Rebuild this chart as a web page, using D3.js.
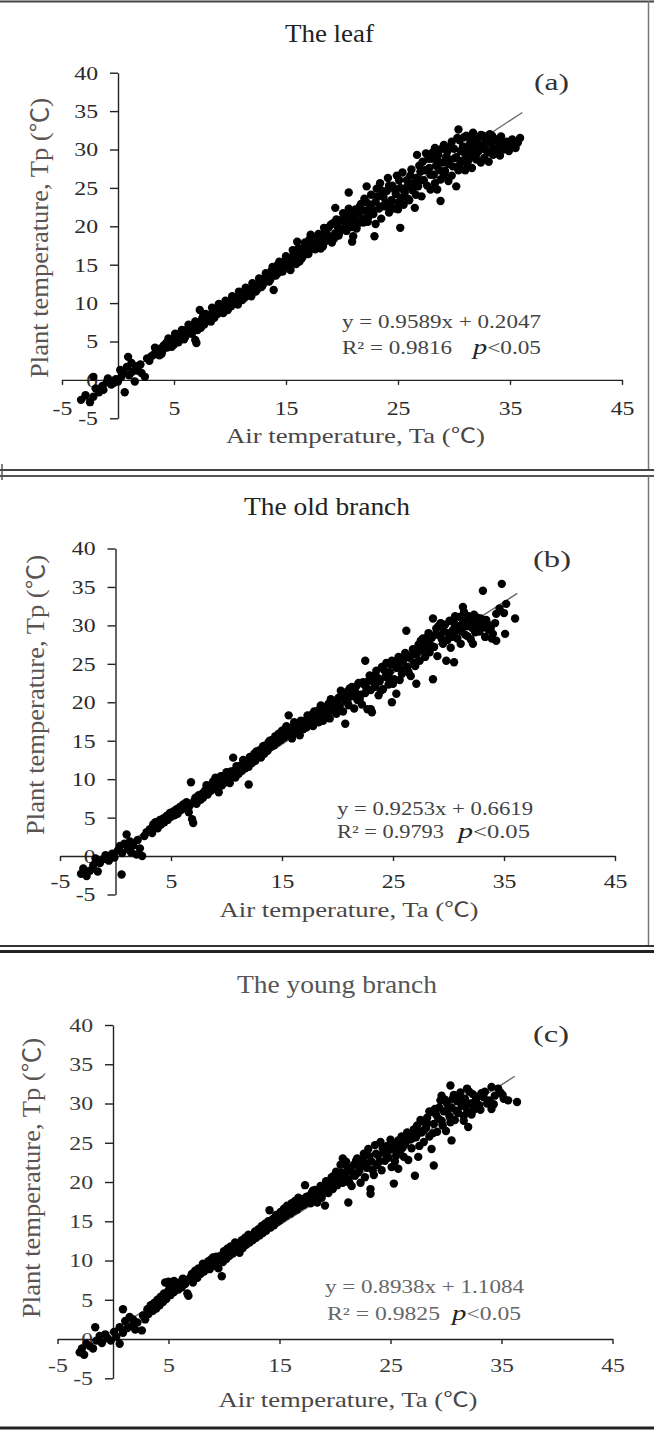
<!DOCTYPE html>
<html><head><meta charset="utf-8">
<script src="https://cdn.jsdelivr.net/npm/d3@7"></script>
<style>
html,body{margin:0;padding:0;background:#fff;}
svg{display:block;}
text{font-family:"Liberation Serif","Times New Roman",serif;}
</style></head><body>
<svg id="chart" width="654" height="1439"></svg>
<script>
// ---------- data ----------
const xTicks = [-5, 5, 15, 25, 35, 45];
const yTicks = [-5, 0, 5, 10, 15, 20, 25, 30, 35, 40];
const panelTitles = ["The leaf", "The old branch", "The young branch"];
const panelLetters = ["(a)", "(b)", "(c)"];
const eqLines = ["y = 0.9589x + 0.2047", "y = 0.9253x + 0.6619", "y = 0.8938x + 1.1084"];
const r2Lines = ["R² = 0.9816", "R² = 0.9793", "R² = 0.9825"];
const pLabel = "<0.05";
const xLabel = "Air temperature, Ta (";
const yLabel = "Plant temperature, Tp (";
const fitSlopes = [0.9589, 0.9253, 0.8938];
const fitIntercepts = [0.2047, 0.6619, 1.1084];
const fitXRange = [[-3.3, 36.1], [-3.1, 36.2], [-3.0, 36.2]];

const leafPoints = [
[-3.3,-2.6],[-2.9,-2.0],[-2.5,-2.9],[-2.2,-2.2],[-2.2,0.4],[-2.0,-1.1],[-1.7,-1.6],[-1.4,-0.8],[-1.3,-1.3],[-1.0,-0.3],[-0.9,0.2],[-0.6,-0.6],[-0.4,-0.4],[-0.2,0.1],[0.0,-0.2],[0.2,1.3],[0.3,0.4],[0.5,0.9],[0.6,-1.6],[0.8,1.7],[0.9,3.0],[1.0,0.6],[1.2,2.2],[1.3,1.1],[1.5,-0.2],[1.6,1.8],[1.8,1.2],[2.0,2.0],[2.1,0.9],[2.4,0.4],[2.6,2.8],[2.8,2.5],[3.0,3.1],
[3.2,3.3],[3.4,3.8],[3.5,3.5],[3.7,3.2],[3.8,4.1],[4.0,3.9],[4.1,4.5],[4.3,4.8],[4.4,4.2],[4.6,4.6],[4.7,5.3],[4.9,5.0],[5.0,4.6],[5.2,5.7],[5.3,5.2],[5.5,5.5],[5.6,6.1],[5.8,5.8],[5.9,5.3],[6.1,6.5],[6.2,6.0],[6.4,6.8],[6.5,6.2],[6.7,6.6],[6.8,7.1],[6.9,5.2],[7.0,4.8],[7.0,6.9],[7.2,7.4],[7.3,9.1],[7.4,6.8],[7.5,7.9],[7.6,8.3],[7.7,7.2],[7.9,7.7],[8.0,8.5],
[8.2,8.3],[8.3,7.6],[8.5,8.9],[8.6,8.1],[8.8,9.3],[8.9,8.6],[9.1,8.9],[9.2,9.6],[9.4,8.7],[9.5,9.2],[9.7,9.9],[9.8,9.1],[10.0,10.3],[10.1,9.6],[10.3,10.0],[10.4,10.7],[10.6,10.2],[10.7,9.8],[10.9,11.0],[11.0,10.5],[11.2,11.3],[11.3,10.7],[11.5,11.1],[11.6,11.8],[11.8,11.3],[11.9,10.9],[12.1,11.9],[12.2,12.4],[12.4,11.7],[12.5,12.2],[12.7,12.8],[12.8,12.1],[13.0,12.6],[13.1,13.3],[13.3,12.9],[13.4,13.7],[13.6,13.1],[13.7,14.2],[13.9,11.7],[13.9,13.6],[14.0,14.6],[14.2,14.9],[14.3,13.9],[14.5,14.3],[14.6,15.2],[14.8,14.7],[14.9,15.5],[15.1,14.9],
[15.2,15.8],[15.4,14.3],[15.5,15.3],[15.7,16.5],[15.8,15.6],[16.0,18.0],[16.0,16.2],[16.2,15.4],[16.3,16.9],[16.5,16.1],[16.6,17.3],[16.8,16.4],[16.9,17.7],[17.1,18.3],[17.1,16.9],[17.3,17.4],[17.4,18.6],[17.6,17.0],[17.7,18.0],[17.9,19.0],[18.0,17.6],[18.2,18.4],[18.3,17.4],[18.5,19.3],[18.6,18.1],[18.8,19.8],[18.9,18.7],[19.1,17.9],[19.2,20.4],[19.4,22.4],[19.4,19.1],[19.6,20.0],[19.7,18.8],[19.9,20.8],[20.0,19.6],[20.2,21.2],[20.3,20.1],
[20.5,20.6],[20.6,24.4],[20.7,21.5],[20.9,18.0],[20.9,19.9],[21.0,18.7],[21.1,20.9],[21.2,22.2],[21.4,20.3],[21.5,21.7],[21.7,22.9],[21.8,21.0],[22.0,23.6],[22.1,22.0],[22.2,25.2],[22.3,20.6],[22.5,22.8],[22.6,24.1],[22.8,21.6],[22.9,18.7],[23.0,23.2],[23.1,24.9],[23.3,22.3],[23.4,25.6],[23.5,21.0],[23.7,23.8],[23.8,22.6],[24.0,24.6],[24.1,26.3],[24.2,21.8],[24.4,23.4],[24.5,25.3],[24.6,22.3],[24.8,24.2],[24.9,26.6],[25.0,23.1],[25.2,19.8],[25.2,25.0],[25.4,27.0],[25.5,22.8],[25.6,24.4],[25.8,26.0],[25.9,23.6],[26.0,25.3],[26.2,27.4],[26.3,24.7],[26.5,22.4],[26.6,26.3],[26.7,29.3],[26.8,25.2],[27.0,27.1],[27.1,23.9],
[27.2,28.4],[27.3,26.0],[27.5,29.5],[27.6,25.3],[27.8,27.6],[27.9,24.8],[28.0,28.8],[28.2,26.7],[28.3,30.2],[28.4,27.9],[28.5,24.8],[28.6,29.3],[28.8,23.3],[28.8,26.1],[29.0,28.3],[29.1,30.6],[29.2,27.2],[29.4,29.7],[29.5,25.9],[29.6,28.7],[29.8,31.0],[29.9,27.8],[30.0,30.1],[30.2,25.2],[30.2,29.0],[30.4,32.6],[30.4,27.3],[30.5,31.2],[30.7,28.5],[30.8,30.4],[31.0,29.4],[31.1,31.8],[31.2,27.9],[31.4,30.7],[31.5,29.1],[31.6,27.6],[31.7,32.2],[31.8,30.2],[32.0,28.7],[32.1,31.4],[32.2,29.8],[32.4,31.9],[32.5,30.5],[32.7,28.9],[32.8,31.3],[33.0,29.6],[33.2,32.0],[33.3,30.8],[33.5,29.3],[33.6,31.4],[33.8,29.6],[34.0,30.3],[34.2,31.7],[34.4,30.0],[34.7,31.0],[35.0,30.6],[35.2,31.3],[35.5,30.2],[35.9,31.5],
[3.3,4.2],[3.9,3.4],[4.5,5.4],[4.8,4.3],[5.1,6.0],[5.4,4.9],[5.7,6.5],[6.0,5.6],[6.3,7.2],[6.6,6.0],[6.9,7.6],[7.1,6.5],[7.8,8.6],[8.1,7.8],[8.4,9.4],[8.7,8.4],[9.0,9.9],[9.3,8.9],[9.6,10.3],[9.9,9.4],[10.2,10.9],[10.5,9.9],[10.8,11.5],[11.1,10.4],[11.4,12.0],[11.7,11.0],[12.0,12.6],[12.3,11.5],[12.6,13.2],[12.9,12.3],[13.2,13.9],[13.5,12.8],[13.8,14.7],[14.1,13.6],[14.4,15.4],[14.7,14.1],[15.0,16.1],
[15.3,15.0],[15.6,16.9],[15.9,15.1],[16.1,17.1],[16.4,15.8],[16.7,17.9],[17.0,16.4],[17.2,18.9],[17.5,17.6],[17.8,18.7],[18.1,17.1],[18.4,19.8],[18.7,18.5],[19.0,20.2],[19.3,18.4],[19.5,20.9],[19.8,19.3],[20.1,21.7],[20.4,19.4],[20.6,22.3],[20.8,20.3],[21.0,21.3],[21.3,19.7],[21.6,22.6],[21.9,20.5],[22.2,23.1],[22.4,21.3],[22.7,22.2],[23.0,20.3],[23.2,23.9],[23.5,22.6],[23.6,24.6],[23.9,23.1],[24.2,25.3],[24.3,22.7],[24.7,24.8],[25.0,22.2],[25.1,26.0],[25.3,23.7],[25.7,25.0],[26.0,23.4],[26.1,26.6],[26.4,25.6],[26.6,24.1],[26.9,27.9],[27.0,26.0],
[27.4,27.3],[27.7,28.8],[27.9,26.7],[28.1,29.6],[28.3,25.6],[28.5,28.6],[28.7,27.3],[28.9,30.1],[29.1,26.6],[29.3,29.0],[29.5,28.1],[29.7,30.4],[29.8,26.6],[30.1,28.9],[30.3,31.5],[30.5,28.0],[30.6,29.8],[30.9,31.6],[31.0,27.3],[31.2,30.2],[31.3,28.6],[31.5,31.4],[31.7,29.6],[31.9,31.0],[32.0,29.4],[32.3,30.6],[32.4,28.3],[32.6,31.8],[32.8,30.0],[33.0,31.0],[33.1,28.4],[33.4,31.8],[33.5,30.2],[33.9,31.1],[34.1,29.2],[34.5,30.8],[34.9,29.8],[35.3,30.8],[35.7,30.9]
];

const oldBranchPoints = [
[-3.1,-2.3],[-2.9,-1.6],[-2.6,-2.6],[-2.3,-1.9],[-2.0,-1.2],[-1.8,-0.3],[-1.6,-2.0],[-1.4,-0.9],[-1.1,-0.4],[-0.9,0.1],[-0.6,-0.6],[-0.3,0.3],[-0.1,-0.2],[0.2,0.7],[0.4,1.3],[0.55,-2.4],[0.6,0.4],[0.8,1.6],[1.0,2.8],[1.1,0.9],[1.3,1.9],[1.4,0.5],[1.6,1.4],[1.9,0.2],[2.0,2.1],[2.2,1.0],[2.4,0.0],[2.6,2.6],[2.8,3.1],
[3.1,3.5],[3.3,3.0],[3.5,3.9],[3.6,4.4],[3.8,3.6],[4.0,4.7],[4.1,4.1],[4.3,4.9],[4.4,4.4],[4.6,5.2],[4.7,4.7],[4.9,5.6],[5.0,5.1],[5.2,5.8],[5.3,5.3],[5.5,6.1],[5.6,5.5],[5.8,6.4],[5.9,6.0],[6.1,6.7],[6.3,6.2],[6.4,7.0],[6.6,5.7],[6.7,6.6],[6.8,9.6],[6.9,4.8],[7.0,4.3],[7.1,7.2],[7.3,6.8],[7.4,7.7],[7.6,7.3],[7.8,8.1],[7.9,7.6],
[8.1,8.6],[8.3,8.0],[8.4,9.1],[8.6,8.5],[8.7,9.4],[8.9,8.8],[9.0,10.2],[9.1,9.3],[9.3,8.3],[9.4,9.8],[9.6,9.2],[9.7,10.4],[9.9,9.6],[10.0,10.9],[10.2,10.1],[10.3,9.5],[10.5,10.6],[10.6,12.8],[10.7,11.1],[10.8,10.2],[11.0,11.4],[11.1,10.7],[11.3,11.8],[11.4,11.1],[11.6,12.1],[11.7,11.4],[11.9,12.4],[12.0,9.3],[12.0,11.6],[12.2,12.8],[12.3,12.1],[12.5,13.3],[12.6,12.4],[12.8,13.0],[12.9,13.7],[13.1,12.8],[13.2,14.0],[13.4,13.3],[13.5,14.4],[13.7,13.7],[13.8,14.8],[14.0,14.2],[14.1,15.1],[14.3,14.4],[14.4,15.6],[14.6,14.8],[14.7,15.9],[14.9,15.1],
[15.0,16.3],[15.2,15.4],[15.3,16.6],[15.5,15.7],[15.6,18.3],[15.7,16.1],[15.9,15.3],[16.0,16.8],[16.2,16.0],[16.3,17.2],[16.5,16.4],[16.6,15.7],[16.8,17.1],[16.9,16.5],[17.1,17.6],[17.2,16.7],[17.4,18.0],[17.5,17.1],[17.7,18.4],[17.8,16.9],[18.0,17.7],[18.1,18.8],[18.3,17.4],[18.4,19.1],[18.6,18.1],[18.7,17.6],[18.9,19.4],[19.0,18.4],[19.2,19.8],[19.3,17.9],[19.5,18.9],[19.6,20.2],[19.8,19.3],[19.9,18.5],
[20.1,20.6],[20.2,19.5],[20.4,21.0],[20.5,18.8],[20.7,17.2],[20.7,20.2],[20.9,21.4],[21.0,19.6],[21.2,20.8],[21.3,22.0],[21.5,19.2],[21.6,21.3],[21.8,20.3],[21.9,22.5],[22.1,21.0],[22.2,19.7],[22.4,22.3],[22.5,25.4],[22.5,21.2],[22.7,19.1],[22.8,22.8],[23.0,19.1],[23.0,21.6],[23.1,18.7],[23.2,23.4],[23.4,22.0],[23.5,24.1],[23.7,20.9],[23.8,22.7],[24.0,24.6],[24.1,21.7],[24.3,23.3],[24.4,25.1],[24.6,22.3],[24.7,23.9],[24.9,20.0],[24.9,25.4],[25.1,23.0],[25.3,21.1],[25.3,24.5],[25.5,25.9],[25.6,22.9],[25.8,23.7],[25.9,25.3],[26.1,26.4],[26.2,29.3],[26.3,24.6],[26.5,25.8],[26.6,23.4],[26.8,26.9],[26.9,25.1],[27.1,22.4],[27.1,26.2],
[27.3,27.5],[27.4,25.4],[27.6,26.8],[27.7,28.3],[27.9,25.9],[28.0,27.7],[28.2,29.0],[28.3,26.5],[28.5,28.4],[28.6,23.0],[28.6,30.9],[28.7,27.2],[28.9,29.6],[29.0,26.0],[29.2,28.7],[29.3,30.3],[29.5,27.6],[29.6,29.2],[29.8,25.4],[29.9,28.1],[30.1,30.6],[30.2,27.1],[30.4,29.4],[30.5,25.2],[30.6,31.2],[30.8,28.3],[30.9,29.9],[31.1,27.6],[31.3,32.4],[31.3,30.6],[31.5,28.8],[31.6,29.9],[31.8,31.2],[32.0,28.2],[32.2,27.6],[32.2,30.3],[32.4,29.1],[32.6,31.0],[32.7,29.6],[33.0,30.1],[33.1,34.5],[33.3,28.5],[33.4,30.7],[33.6,29.4],[33.9,28.3],[34.0,28.9],[34.2,30.3],[34.3,31.5],[34.8,35.4],[35.1,28.9],[35.2,32.8],[36.0,30.9],
[3.4,4.1],[3.9,4.2],[4.2,4.6],[4.5,4.9],[4.8,5.3],[5.1,5.6],[5.4,5.8],[5.7,6.0],[6.0,6.4],[6.2,6.7],[6.5,6.5],[7.2,7.6],[7.5,7.9],[7.7,7.4],[8.0,8.3],[8.2,9.2],[8.5,8.7],[8.8,9.7],[9.2,9.8],[9.5,10.4],[9.8,10.2],[10.1,10.7],[10.4,11.0],[10.9,11.7],[11.2,11.4],[11.5,12.5],[11.8,11.9],[12.1,12.9],[12.4,12.5],[12.7,13.6],[13.0,13.2],[13.3,14.3],[13.6,13.9],[13.9,15.0],[14.2,14.7],[14.5,15.3],[14.8,15.7],
[15.1,15.8],[15.4,16.9],[15.8,16.6],[16.1,17.4],[16.4,16.8],[16.7,17.6],[17.0,17.0],[17.3,18.3],[17.6,17.6],[17.9,18.8],[18.2,18.2],[18.5,19.6],[18.8,18.8],[19.1,19.0],[19.4,20.4],[19.7,19.7],[20.0,20.1],[20.3,21.5],[20.6,20.6],[20.9,20.0],[21.1,21.8],[21.4,20.8],[21.7,22.1],[22.0,20.4],[22.3,22.6],[22.6,21.9],[22.9,23.5],[23.3,22.5],[23.6,23.2],[23.9,21.5],[24.2,24.2],[24.5,23.2],[24.8,24.9],[25.0,22.4],[25.4,25.1],[25.7,24.3],[26.0,25.7],[26.4,23.9],[26.7,26.2],[27.0,24.7],
[27.2,26.5],[27.5,28.0],[27.8,27.1],[28.1,28.5],[28.4,27.4],[28.8,28.8],[29.1,29.9],[29.4,28.2],[29.7,30.1],[30.0,29.0],[30.3,28.5],[30.5,30.3],[30.7,29.3],[31.0,31.1],[31.2,29.2],[31.4,31.7],[31.7,28.6],[31.9,30.8],[32.1,29.7],[32.3,31.4],[32.5,30.4],[32.8,29.2],[32.9,30.9],[33.2,29.8],[33.5,30.2],[33.8,29.6],[34.3,28.0],[34.6,32.2],[35.0,31.6]
];

const youngBranchPoints = [
[-3.0,-1.7],[-2.8,-1.2],[-2.6,-2.0],[-2.4,-0.6],[-2.1,-0.9],[-1.8,-1.2],[-1.6,1.5],[-1.5,-0.2],[-1.2,0.4],[-1.0,-0.5],[-0.7,0.6],[-0.5,0.1],[-0.2,-0.2],[0.1,0.9],[0.3,0.3],[0.6,-0.6],[0.6,1.5],[0.9,3.8],[0.9,0.8],[1.1,2.3],[1.3,1.4],[1.5,2.8],[1.7,1.7],[1.8,2.5],[2.0,1.2],[2.2,2.1],[2.6,1.1],[2.7,3.0],[2.9,2.5],
[3.1,3.8],[3.2,3.2],[3.4,4.3],[3.6,3.6],[3.7,4.6],[3.9,3.9],[4.0,5.0],[4.2,4.3],[4.3,5.4],[4.5,4.7],[4.6,5.8],[4.7,7.2],[4.8,5.1],[5.0,6.2],[5.0,7.3],[5.2,5.6],[5.3,6.6],[5.5,7.4],[5.5,6.0],[5.7,6.9],[5.9,6.3],[6.0,7.2],[6.2,6.6],[6.3,7.7],[6.5,7.0],[6.7,5.8],[6.8,5.5],[6.9,7.6],[7.1,8.3],[7.2,7.2],[7.4,8.7],[7.6,7.8],[7.7,9.0],[7.9,8.3],
[8.1,9.6],[8.2,8.6],[8.4,9.2],[8.6,9.9],[8.7,8.9],[8.9,9.5],[9.0,10.4],[9.2,9.3],[9.4,10.1],[9.5,9.0],[9.7,10.6],[9.8,8.0],[9.9,9.8],[10.0,11.2],[10.2,10.2],[10.3,11.5],[10.5,10.6],[10.6,11.8],[10.8,10.9],[11.0,12.3],[11.1,11.3],[11.3,12.1],[11.4,11.0],[11.6,12.6],[11.7,11.6],[11.9,12.9],[12.0,12.0],[12.2,13.3],[12.3,12.3],[12.5,13.1],[12.6,12.6],[12.8,13.7],[12.9,12.9],[13.1,14.0],[13.2,13.2],[13.4,14.4],[13.5,13.5],[13.7,14.7],[13.8,13.8],[14.0,15.0],[14.1,16.4],[14.2,14.2],[14.4,15.3],[14.5,14.5],[14.7,15.8],[14.8,14.9],[15.0,15.1],
[15.1,16.2],[15.3,15.4],[15.4,16.6],[15.6,15.7],[15.7,17.0],[15.8,16.8],[16.0,16.0],[16.1,17.3],[16.3,16.3],[16.4,17.6],[16.6,16.5],[16.7,18.0],[16.9,16.9],[17.0,17.8],[17.2,17.1],[17.3,19.6],[17.5,17.5],[17.6,18.2],[17.8,17.3],[17.9,18.6],[18.1,17.8],[18.2,19.0],[18.4,17.4],[18.5,18.4],[18.7,19.5],[18.8,18.0],[19.0,19.2],[19.1,17.0],[19.2,20.1],[19.4,18.6],[19.5,19.8],[19.7,20.6],[19.8,19.1],[20.0,20.2],
[20.1,21.3],[20.2,19.6],[20.4,20.7],[20.5,22.2],[20.7,19.9],[20.7,23.0],[20.9,21.0],[21.0,22.6],[21.2,17.4],[21.2,20.3],[21.4,21.6],[21.5,19.5],[21.7,22.2],[21.8,20.8],[22.0,23.0],[22.1,21.2],[22.3,19.9],[22.4,22.0],[22.6,23.6],[22.7,20.6],[22.9,21.8],[23.0,24.2],[23.2,18.5],[23.2,19.1],[23.3,22.6],[23.5,20.9],[23.6,24.7],[23.8,22.2],[23.9,23.4],[24.1,25.1],[24.2,21.5],[24.4,23.8],[24.5,22.7],[24.7,24.6],[24.8,23.1],[25.0,25.4],[25.1,21.9],[25.3,19.8],[25.3,24.2],[25.5,23.3],[25.7,21.7],[25.7,25.3],[25.9,24.0],[26.0,25.8],[26.2,23.2],[26.3,24.8],[26.5,26.3],[26.6,22.8],[26.8,25.4],[26.9,24.3],[27.1,26.7],
[27.2,20.8],[27.3,25.7],[27.4,27.2],[27.5,23.2],[27.6,24.6],[27.8,26.3],[27.9,27.7],[28.0,25.1],[28.2,26.9],[28.3,28.2],[28.5,25.8],[28.6,28.9],[28.7,24.2],[28.9,22.1],[28.9,27.4],[29.0,29.3],[29.2,26.4],[29.3,28.1],[29.5,30.4],[29.6,31.0],[29.7,27.2],[29.8,29.0],[30.0,26.5],[30.1,30.0],[30.3,28.4],[30.4,32.3],[30.5,25.3],[30.5,29.5],[30.7,31.1],[30.8,27.9],[31.0,30.3],[31.1,28.8],[31.3,31.4],[31.4,29.7],[31.6,27.8],[31.7,30.6],[31.9,31.9],[31.9,28.9],[32.0,27.0],[32.2,30.0],[32.4,31.2],[32.5,29.2],[32.7,30.5],[33.0,29.8],[33.2,31.3],[33.4,30.8],[33.7,30.0],[34.1,32.1],[34.1,29.3],[34.4,31.0],[34.9,31.4],[35.2,30.6],[35.6,30.4],[36.4,30.2],
[3.3,3.7],[3.8,4.4],[4.1,4.6],[4.4,5.1],[4.9,5.7],[5.1,6.8],[5.4,6.3],[5.8,7.1],[6.1,6.9],[6.4,7.3],[6.6,7.5],[7.0,7.9],[7.3,8.1],[7.5,8.4],[7.8,8.8],[8.0,8.9],[8.3,9.4],[8.5,9.6],[8.8,10.1],[9.1,9.9],[9.3,10.5],[9.6,10.0],[10.1,10.9],[10.4,11.1],[10.7,11.5],[10.9,11.6],[11.2,12.0],[11.5,12.3],[11.8,12.6],[12.1,12.7],[12.4,13.0],[12.7,13.2],[13.0,13.6],[13.3,13.9],[13.6,14.1],[13.9,14.4],[14.3,14.8],[14.6,15.2],[14.9,15.6],
[15.2,15.7],[15.5,16.2],[15.9,16.4],[16.2,16.7],[16.5,17.1],[16.8,17.4],[17.1,17.5],[17.4,18.1],[17.7,17.9],[18.0,18.9],[18.3,18.3],[18.6,19.0],[18.9,18.6],[19.3,19.5],[19.6,19.2],[19.9,20.8],[20.3,20.2],[20.6,21.2],[20.8,20.6],[21.1,21.9],[21.3,19.9],[21.6,21.1],[21.9,22.7],[22.2,21.6],[22.5,22.9],[22.8,22.3],[23.1,23.3],[23.4,21.5],[23.7,23.6],[24.0,22.6],[24.3,24.3],[24.6,23.5],[24.9,24.1],[25.2,24.9],[25.4,22.6],[25.8,24.8],[26.1,24.4],[26.4,25.5],[26.7,26.0],[27.0,25.6],
[27.3,26.4],[27.7,27.9],[28.0,26.6],[28.3,27.5],[28.5,29.0],[28.8,26.2],[29.1,28.6],[29.4,29.5],[29.6,27.8],[29.9,30.5],[30.2,29.3],[30.4,27.6],[30.6,30.6],[30.9,29.1],[31.2,31.0],[31.5,30.2],[31.6,28.4],[31.8,29.6],[32.1,31.5],[32.3,28.6],[32.6,30.2],[32.9,30.9],[33.1,29.2],[33.5,31.5],[33.9,30.4],[34.3,29.9],[34.7,31.9],[35.1,31.1]
];
const panelPoints = [leafPoints, oldBranchPoints, youngBranchPoints];

// ---------- layout (pixels) ----------
const layout = [
  {xr:[62,622], yr:[418.3,72.7], xTickY:35, title:{x:329.5,y:42,w:89,c:"#222"}, letter:{x:551.5,y:90,w:35},
   eq:{x:342,y:328,w:199}, r2:{x:342,y:354,w:110}, p:{x:473,y:354,w:68}, xl:{x:355.5,y:443}, yl:{x:48,y:238},
   eqColor:"#444", tickColor:"#2a2a2a"},
  {xr:[60,615], yr:[894.5,548.5], xTickY:31.5, title:{x:327,y:515,w:166,c:"#222"}, letter:{x:552,y:567,w:38},
   eq:{x:337,y:815,w:196}, r2:{x:337,y:838,w:107}, p:{x:458,y:838,w:72}, xl:{x:349,y:917}, yl:{x:44,y:695},
   eqColor:"#444", tickColor:"#2a2a2a"},
  {xr:[57.5,612.5], yr:[1378.3,1025], xTickY:33.3, title:{x:337,y:993,w:200,c:"#555"}, letter:{x:551,y:1042,w:36},
   eq:{x:325,y:1293,w:199}, r2:{x:327,y:1320,w:113}, p:{x:452,y:1320,w:69}, xl:{x:348,y:1407}, yl:{x:40,y:1178},
   eqColor:"#666", tickColor:"#3a3a3a"}
];

const svg = d3.select("#chart");

// frames
const frame = svg.append("g").attr("fill","none");
frame.append("line").attr("x1",0).attr("x2",654).attr("y1",1.5).attr("y2",1.5).attr("stroke","#444").attr("stroke-width",2);
frame.append("line").attr("x1",648.5).attr("x2",648.5).attr("y1",1).attr("y2",470).attr("stroke","#777").attr("stroke-width",1.5);
frame.append("line").attr("x1",0).attr("x2",654).attr("y1",470).attr("y2",470).attr("stroke","#444").attr("stroke-width",2);
frame.append("line").attr("x1",0).attr("x2",654).attr("y1",476).attr("y2",476).attr("stroke","#555").attr("stroke-width",2);
frame.append("line").attr("x1",2).attr("x2",2).attr("y1",464).attr("y2",480).attr("stroke","#555").attr("stroke-width",1.5);
frame.append("line").attr("x1",648.5).attr("x2",648.5).attr("y1",476).attr("y2",946).attr("stroke","#777").attr("stroke-width",1.5);
frame.append("line").attr("x1",0).attr("x2",654).attr("y1",946).attr("y2",946).attr("stroke","#333").attr("stroke-width",2);
frame.append("line").attr("x1",0).attr("x2",654).attr("y1",951.5).attr("y2",951.5).attr("stroke","#222").attr("stroke-width",3);
frame.append("line").attr("x1",0).attr("x2",654).attr("y1",1428).attr("y2",1428).attr("stroke","#222").attr("stroke-width",3);

layout.forEach((L, i) => {
  const x = d3.scaleLinear().domain([-5,45]).range(L.xr);
  const y = d3.scaleLinear().domain([-5,40]).range(L.yr);
  const g = svg.append("g");

  const yAx = g.append("g").attr("transform", `translate(${x(0)},0)`)
    .call(d3.axisLeft(y).tickValues(yTicks).tickSize(8).tickSizeOuter(0).tickFormat(d => String(d)));
  const xAx = g.append("g").attr("transform", `translate(0,${y(0)})`)
    .call(d3.axisBottom(x).tickValues(xTicks).tickSize(5).tickSizeOuter(0).tickFormat(d => String(d)));
  [yAx, xAx].forEach(a => {
    a.select(".domain").attr("stroke","#222").attr("stroke-width",1.4);
    a.selectAll(".tick line").attr("stroke","#222").attr("stroke-width",1.4);
  });
  yAx.selectAll(".tick text")
    .attr("x", 0).attr("dy","0.34em")
    .attr("transform","translate(-20,0) scale(1.25,1)")
    .attr("font-size",19).attr("fill",L.tickColor)
    .style("font-family",'"Liberation Serif","Times New Roman",serif');
  xAx.selectAll(".tick text")
    .attr("y", L.xTickY).attr("dy", 0)
    .attr("transform","scale(1.25,1)")
    .attr("font-size",19).attr("fill",L.tickColor)
    .style("font-family",'"Liberation Serif","Times New Roman",serif');

  const xr = fitXRange[i];
  const fit = xr.map(v => [v, fitSlopes[i]*v + fitIntercepts[i]]);
  g.append("path").datum(fit)
    .attr("d", d3.line().x(d => x(d[0])).y(d => y(d[1])))
    .attr("stroke","#6a6a6a").attr("stroke-width",1.3).attr("fill","none");

  g.append("g").selectAll("circle").data(panelPoints[i]).join("circle")
    .attr("cx", d => x(d[0])).attr("cy", d => y(d[1])).attr("r", 4.2).attr("fill","#000");

  g.append("text").attr("x",L.title.x).attr("y",L.title.y).attr("text-anchor","middle")
    .attr("font-size",26).attr("fill",L.title.c)
    .attr("textLength",L.title.w).attr("lengthAdjust","spacingAndGlyphs").text(panelTitles[i]);
  g.append("text").attr("x",L.letter.x).attr("y",L.letter.y).attr("text-anchor","middle")
    .attr("font-size",24).attr("fill","#333")
    .attr("textLength",L.letter.w).attr("lengthAdjust","spacingAndGlyphs").text(panelLetters[i]);
  g.append("text").attr("x",L.eq.x).attr("y",L.eq.y).attr("font-size",18).attr("fill",L.eqColor)
    .attr("textLength",L.eq.w).attr("lengthAdjust","spacingAndGlyphs").text(eqLines[i]);
  g.append("text").attr("x",L.r2.x).attr("y",L.r2.y).attr("font-size",18).attr("fill",L.eqColor)
    .attr("textLength",L.r2.w).attr("lengthAdjust","spacingAndGlyphs").text(r2Lines[i]);
  const pt = g.append("text").attr("x",L.p.x).attr("y",L.p.y).attr("font-size",18).attr("fill",L.eqColor)
    .attr("textLength",L.p.w).attr("lengthAdjust","spacingAndGlyphs");
  pt.append("tspan").attr("font-style","italic").attr("font-size",22).attr("fill","#222").text("p");
  pt.append("tspan").text(pLabel);

  const xt = g.append("text").attr("x",L.xl.x).attr("y",L.xl.y).attr("text-anchor","middle")
    .attr("font-size",21).attr("fill","#4a4646")
    .attr("textLength",259).attr("lengthAdjust","spacingAndGlyphs");
  xt.append("tspan").text(xLabel);
  xt.append("tspan").style("font-family",'"Noto Sans CJK SC","DejaVu Sans",sans-serif').attr("font-size",20).text("℃");
  xt.append("tspan").text(")");

  const yt = g.append("text").attr("transform",`translate(${L.yl.x},${L.yl.y}) rotate(-90)`)
    .attr("text-anchor","middle").attr("font-size",25).attr("fill","#5a5454")
    .attr("textLength",280).attr("lengthAdjust","spacingAndGlyphs");
  yt.append("tspan").text(yLabel);
  yt.append("tspan").style("font-family",'"Noto Sans CJK SC","DejaVu Sans",sans-serif').attr("font-size",24).text("℃");
  yt.append("tspan").text(")");
});
</script>
</body></html>
